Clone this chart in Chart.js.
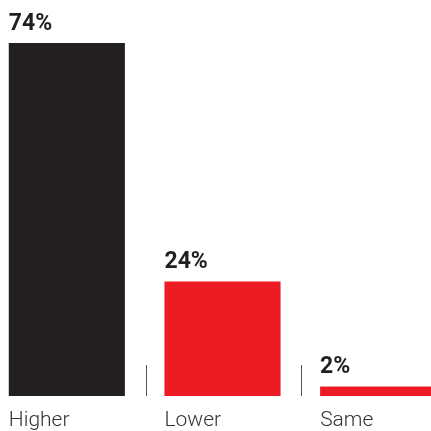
<!DOCTYPE html>
<html>
<head>
<meta charset="utf-8">
<script src="https://cdn.jsdelivr.net/npm/chart.js@4"></script>
<style>
    html, body { margin: 0; padding: 0; background: #fff; overflow: hidden; }
    #wrap { position: relative; width: 431px; height: 431px; overflow: hidden; }
    #chart { position: absolute; left: -11px; top: 0; }
</style>
</head>
<body>
<div id="wrap">
    <canvas id="chart" width="467" height="431"></canvas>
</div>
<script>
const categories = ['Higher', 'Lower', 'Same']
const shares     = [74, 24, 2]
const barColors  = ['#231f20', '#ed1c24', '#ed1c24']

// value above each bar, left aligned with the bar edge
const valueLabels = {
    id: 'valueLabels',
    afterDatasetsDraw(chart) {
        const ctx = chart.ctx
        const meta = chart.getDatasetMeta(0)
        ctx.save()
        ctx.font = 'bold 23px Roboto'
        ctx.fillStyle = '#231f20'
        ctx.textAlign = 'left'
        ctx.textBaseline = 'alphabetic'
        meta.data.forEach((bar, i) => {
            ctx.fillText(`${shares[i]}%`, bar.x - bar.width / 2, bar.y - 13)
        })
        ctx.restore()
    }
}

// short ticks between the categories, standing on the baseline
const dividers = {
    id: 'dividers',
    afterDatasetsDraw(chart) {
        const ctx = chart.ctx
        const x = chart.scales.x
        const base = chart.scales.y.getPixelForValue(0)
        ctx.save()
        ctx.strokeStyle = '#555'
        ctx.lineWidth = 1
        for (let i = 1; i < categories.length; i++) {
            const px = Math.round((x.getPixelForValue(i - 1) + x.getPixelForValue(i)) / 2) + 1.5
            ctx.beginPath()
            ctx.moveTo(px, base)
            ctx.lineTo(px, base - 31)
            ctx.stroke()
        }
        ctx.restore()
    }
}

new Chart(document.getElementById('chart').getContext('2d'), {
    type: 'bar',
    data: {
        labels: categories,
        datasets: [{
            data: shares,
            backgroundColor: barColors,
            borderWidth: 0,
            categoryPercentage: 1,
            barPercentage: 0.746
        }]
    },
    options: {
        responsive: false,
        animation: false,
        devicePixelRatio: 1,
        layout: { padding: 0 },
        plugins: {
            legend: { display: false },
            tooltip: { enabled: false }
        },
        scales: {
            x: {
                grid: { display: false },
                border: { display: false },
                ticks: {
                    align: 'start',
                    labelOffset: -58,
                    padding: 4,
                    color: '#333',
                    font: { family: 'Roboto', size: 21, weight: '300' }
                },
                afterFit(scale) { scale.height = 35 }
            },
            y: {
                display: false,
                min: 0,
                max: 83
            }
        }
    },
    plugins: [valueLabels, dividers]
})
</script>
</body>
</html>
